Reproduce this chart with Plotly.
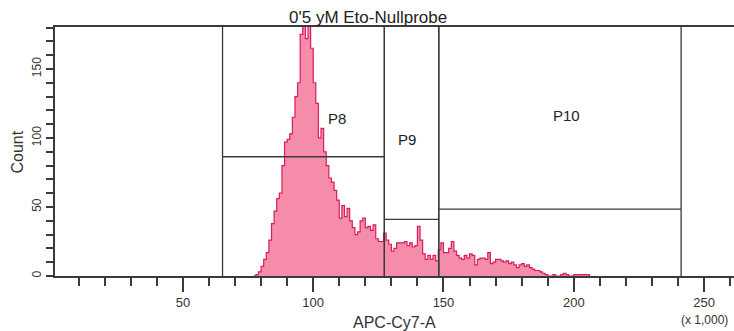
import plotly.graph_objects as go

# ---- data ----
channel_start = 77  # first histogram channel (x 1,000)
counts = [
    0, 1, 3, 7, 12, 17, 26, 38, 47, 56,          # 77-86
    60, 80, 97, 99, 103, 115, 130, 140, 175, 185,  # 87-96
    172, 185, 165, 140, 125, 100, 107, 90, 80, 71,  # 97-106
    68, 62, 55, 42, 51, 43, 49, 40, 35, 30,        # 107-116
    32, 40, 42, 35, 36, 33, 37, 27, 25, 25,        # 117-126
    31, 26, 23, 18, 20, 24, 24, 24, 25, 22,        # 127-136
    24, 21, 22, 36, 26, 16, 12, 15, 12, 15,        # 137-146
    11, 19, 24, 17, 17, 20, 25, 18, 15, 13,        # 147-156
    12, 15, 13, 16, 15, 8, 12, 13, 13, 12,         # 157-166
    17, 9, 10, 12, 12, 11, 10, 11, 9, 10,          # 167-176
    8, 6, 8, 9, 7, 8, 6, 5, 4, 4,                  # 177-186
    3, 2, 1, 0, 0, 1, 0, 0, 1, 2,                  # 187-196
    1, 0, 0, 1, 1, 1, 1, 1, 1, 0,                  # 197-206
]
channels = [channel_start + i for i in range(len(counts))]

gate_names = ["P8", "P9", "P10"]
gate_lo = [65.2, 127.3, 148.2]
gate_hi = [127.3, 148.2, 241.2]
gate_level = [86.4, 41.0, 48.5]
label_x = [109.0, 135.9, 197.3]
label_y = [114.0, 98.6, 116.0]

x_range = [0.9, 261.5]
y_range = [0, 180.4]

title_text = "0'5 yM Eto-Nullprobe"
x_title = "APC-Cy7-A"
y_title = "Count"

line_col = "#3a3a3a"
font_fam = "Liberation Sans, Arial, sans-serif"

fig = go.Figure()
fig.add_trace(go.Scatter(
    x=channels, y=counts, mode="lines", line_shape="hv",
    line=dict(color="rgb(215,30,90)", width=1.2),
    fill="tozeroy", fillcolor="rgb(244,140,170)",
    hoverinfo="skip", showlegend=False,
))

shapes = []
for lo, hi, lev in zip(gate_lo, gate_hi, gate_level):
    for xv in (lo, hi):
        shapes.append(dict(type="line", xref="x", yref="y", x0=xv, x1=xv,
                           y0=y_range[0], y1=y_range[1],
                           line=dict(color=line_col, width=1.3)))
    shapes.append(dict(type="line", xref="x", yref="y", x0=lo, x1=hi,
                       y0=lev, y1=lev, line=dict(color=line_col, width=1.3)))

annotations = []
for name, lx, ly in zip(gate_names, label_x, label_y):
    annotations.append(dict(x=lx, y=ly, xref="x", yref="y", text=name,
                            showarrow=False, font=dict(size=15, color="#222")))
annotations += [
    dict(x=0.5, y=-0.185, xref="paper", yref="paper", text=x_title,
         showarrow=False, yanchor="middle", font=dict(size=16, color="#333")),
    dict(x=-0.0545, y=0.5, xref="paper", yref="paper", text=y_title,
         showarrow=False, textangle=-90, xanchor="center",
         font=dict(size=16, color="#333")),
    dict(x=250.3, y=-0.177, xref="x", yref="paper", text="(x 1,000)",
         showarrow=False, yanchor="middle", font=dict(size=12, color="#333")),
    dict(x=0.461, y=1.0, xref="paper", yref="paper", text=title_text,
         showarrow=False, yanchor="bottom", yshift=-2,
         font=dict(size=17, color="#222")),
]

fig.update_layout(
    width=734, height=331,
    margin=dict(l=55, r=0, t=27, b=55),
    paper_bgcolor="white", plot_bgcolor="white",
    font=dict(family=font_fam, color="#333"),
    shapes=shapes, annotations=annotations,
    xaxis=dict(range=x_range, showgrid=False, zeroline=False,
               showline=True, linecolor=line_col, linewidth=1.5, mirror=True,
               ticks="outside", tick0=0, dtick=50, ticklen=14, tickwidth=1.5,
               tickcolor=line_col, tickfont=dict(size=13, color="#333"),
               tickvals=[50, 100, 150, 200, 250],
               minor=dict(dtick=10, tick0=0, ticks="outside", ticklen=8,
                          tickwidth=1.5, tickcolor=line_col, showgrid=False)),
    yaxis=dict(range=y_range, showgrid=False, zeroline=False,
               showline=True, linecolor=line_col, linewidth=1.5, mirror=False,
               ticks="outside", tick0=0, dtick=50, ticklen=7, tickwidth=1.5,
               tickcolor=line_col, tickangle=-90,
               tickfont=dict(size=12, color="#333"),
               minor=dict(dtick=10, tick0=0, ticks="outside", ticklen=7,
                          tickwidth=1.5, tickcolor=line_col, showgrid=False)),
)

fig.write_html("out.html")
